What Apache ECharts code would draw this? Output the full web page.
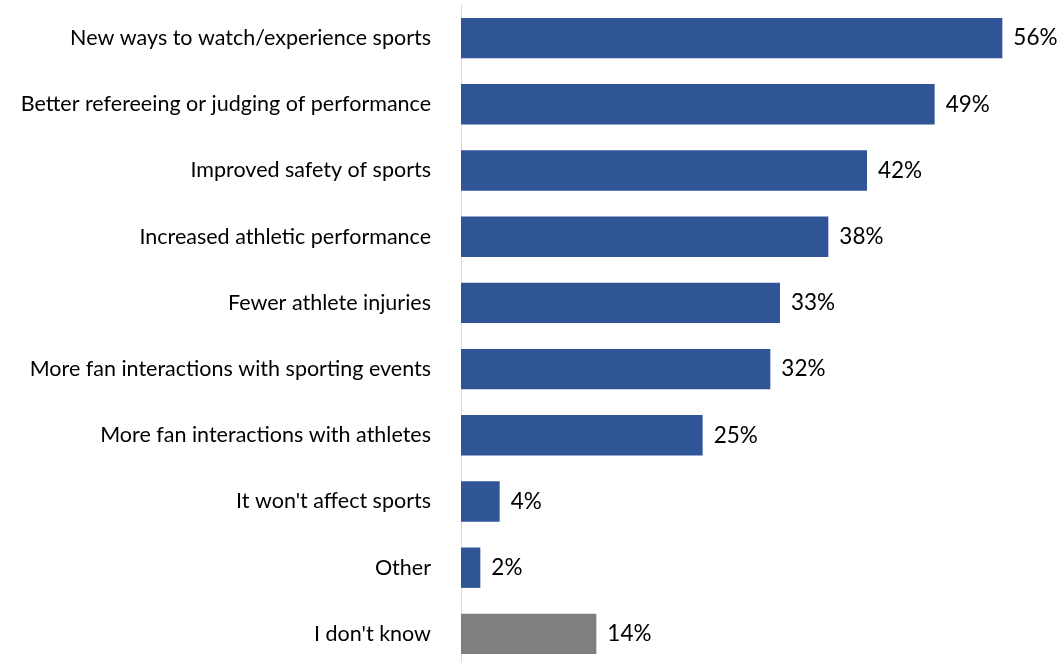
<!DOCTYPE html>
<html>
<head>
<meta charset="utf-8">
<script src="https://cdn.jsdelivr.net/npm/echarts@6/dist/echarts.min.js"></script>
<style>
  html, body { margin: 0; padding: 0; background: #fff; }
  #chart { width: 1063px; height: 662px; }
</style>
</head>
<body>
<div id="chart"></div>
<script>
// Survey answers, top to bottom
const categories = [
  "New ways to watch/experience sports",
  "Better refereeing or judging of performance",
  "Improved safety of sports",
  "Increased athletic performance",
  "Fewer athlete injuries",
  "More fan interactions with sporting events",
  "More fan interactions with athletes",
  "It won't affect sports",
  "Other",
  "I don't know"
];
const shares = [56, 49, 42, 38, 33, 32, 25, 4, 2, 14];
const neutralAnswers = ["I don't know"];

const BLUE = "#2F5597";
const GREY = "#7F7F7F";

const chart = echarts.init(document.getElementById("chart"));
chart.setOption({
  animation: false,
  grid: {
    left: 461, top: 5, width: 580, height: 662,
    containLabel: false,
    outerBoundsMode: "none"
  },
  xAxis: {
    type: "value", min: 0, max: 60,
    show: false
  },
  yAxis: {
    type: "category",
    inverse: true,
    data: categories,
    axisLine: { show: true, lineStyle: { color: "#D9D9D9", width: 1 } },
    axisTick: { show: false },
    axisLabel: {
      margin: 30,
      color: "#000",
      fontFamily: "Lato",
      fontSize: 21.5
    }
  },
  series: [{
    type: "bar",
    barCategoryGap: "39%",
    data: shares.map((v, i) => ({
      value: v,
      itemStyle: { color: neutralAnswers.includes(categories[i]) ? GREY : BLUE }
    })),
    label: {
      show: true,
      position: "right",
      distance: 11,
      color: "#000",
      fontFamily: "Lato",
      fontSize: 22.5,
      formatter: p => p.value + "%"
    }
  }]
});
</script>
</body>
</html>
